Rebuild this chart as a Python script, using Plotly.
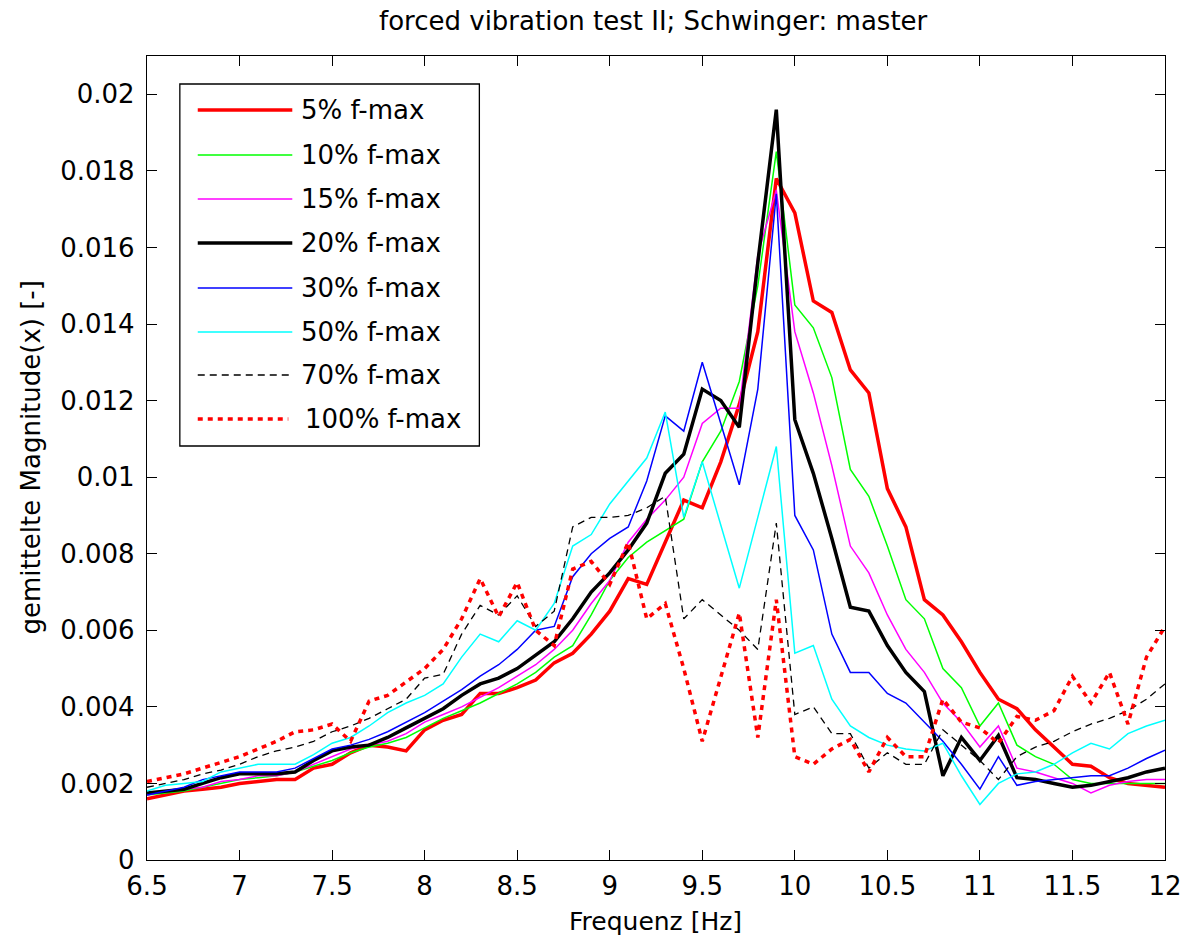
import numpy as np
import plotly.graph_objects as go

# ---------------- data (magnitudes in units of 1e-3) ----------------
freq = [round(6.5 + 0.1 * i, 2) for i in range(56)]

s5 = [1.6, 1.7, 1.8, 1.85, 1.9, 2.0, 2.05, 2.1, 2.1, 2.4,
      2.5, 2.8, 3.0, 2.95, 2.85, 3.4, 3.65, 3.8, 4.35, 4.35,
      4.5, 4.7, 5.15, 5.4, 5.9, 6.5, 7.35, 7.2, 8.3, 9.4,
      9.2, 10.4, 11.9, 13.8, 17.8, 16.9, 14.6, 14.3, 12.8, 12.2,
      9.7, 8.7, 6.8, 6.4, 5.7, 4.9, 4.2, 3.95, 3.4, 2.95,
      2.5, 2.45, 2.15, 2.0, 1.95, 1.9]
s10 = [1.7, 1.75, 1.8, 1.9, 2.0, 2.1, 2.15, 2.2, 2.3, 2.45,
       2.6, 2.8, 2.95, 3.05, 3.2, 3.45, 3.7, 3.9, 4.1, 4.35,
       4.6, 4.9, 5.3, 5.6, 6.4, 7.3, 7.9, 8.3, 8.6, 8.9,
       10.4, 11.2, 12.5, 15.0, 18.5, 14.5, 13.9, 12.6, 10.2, 9.5,
       8.2, 6.8, 6.3, 5.0, 4.5, 3.5, 4.1, 3.0, 2.7, 2.5,
       2.1, 2.0, 2.0, 2.0, 2.0, 2.0]
s15 = [1.7, 1.8, 1.85, 1.9, 2.05, 2.1, 2.2, 2.2, 2.3, 2.5,
       2.7, 2.9, 3.0, 3.1, 3.3, 3.6, 3.8, 4.0, 4.25, 4.5,
       4.8, 5.1, 5.5, 6.0, 6.7, 7.3, 8.3, 8.9, 9.4, 10.0,
       11.4, 11.8, 11.8, 15.8, 17.5, 13.8, 12.2, 10.3, 8.2, 7.5,
       6.4, 5.5, 4.9, 4.1, 3.6, 2.95, 3.5, 2.4, 2.3, 2.15,
       2.0, 1.75, 1.95, 2.05, 2.1, 2.1]
s20 = [1.75, 1.8, 1.85, 2.0, 2.15, 2.25, 2.25, 2.25, 2.3, 2.6,
       2.85, 2.95, 3.0, 3.2, 3.45, 3.7, 3.95, 4.3, 4.6, 4.75,
       5.0, 5.35, 5.7, 6.3, 7.0, 7.5, 8.1, 8.8, 10.1, 10.6,
       12.3, 12.0, 11.3, 15.6, 19.6, 11.5, 10.1, 8.4, 6.6, 6.5,
       5.6, 4.9, 4.4, 2.2, 3.2, 2.6, 3.25, 2.15, 2.1, 2.0,
       1.9, 1.95, 2.05, 2.15, 2.3, 2.4]
s30 = [1.7, 1.8, 1.9, 2.1, 2.2, 2.3, 2.3, 2.3, 2.4, 2.65,
       2.9, 3.0, 3.15, 3.35, 3.6, 3.85, 4.15, 4.45, 4.8, 5.1,
       5.5, 6.0, 6.1, 7.4, 8.0, 8.4, 8.7, 9.9, 11.6, 11.2,
       13.0, 11.4, 9.8, 12.3, 17.4, 9.0, 8.1, 5.9, 4.9, 4.9,
       4.35, 4.1, 3.6, 3.1, 2.5, 1.85, 2.7, 1.95, 2.05, 2.1,
       2.15, 2.2, 2.2, 2.4, 2.65, 2.87]
s50 = [1.8, 1.95, 2.0, 2.05, 2.3, 2.4, 2.5, 2.5, 2.5, 2.75,
       3.05, 3.2, 3.5, 3.85, 4.1, 4.3, 4.6, 5.3, 5.9, 5.7,
       6.25, 6.0, 6.7, 8.2, 8.5, 9.3, 9.9, 10.5, 11.7, 8.95,
       10.4, 8.75, 7.1, 8.95, 10.8, 5.4, 5.6, 4.2, 3.5, 3.2,
       3.0, 2.9, 2.85, 3.05, 2.2, 1.45, 2.0, 2.25, 2.3, 2.5,
       2.8, 3.05, 2.9, 3.3, 3.5, 3.65]
s70 = [1.9, 2.0, 2.1, 2.25, 2.35, 2.5, 2.7, 2.85, 2.95, 3.1,
       3.35, 3.5, 3.7, 3.95, 4.2, 4.75, 4.85, 5.9, 6.65, 6.4,
       6.9, 6.1, 6.5, 8.7, 8.95, 8.95, 9.0, 9.2, 9.5, 6.3,
       6.8, 6.4, 6.0, 5.5, 8.8, 3.8, 4.0, 3.3, 3.3, 2.4,
       2.8, 2.5, 2.5, 3.4, 3.0, 2.6, 2.1, 2.7, 2.95, 3.1,
       3.35, 3.55, 3.7, 3.9, 4.2, 4.6]
s100 = [2.05, 2.15, 2.25, 2.4, 2.55, 2.7, 2.9, 3.1, 3.35, 3.4,
        3.55, 3.1, 4.15, 4.3, 4.65, 5.0, 5.5, 6.3, 7.35, 6.35,
        7.25, 6.0, 5.6, 7.6, 7.8, 7.2, 8.3, 6.3, 6.7, 5.0,
        3.1, 4.8, 6.45, 3.2, 6.8, 2.7, 2.5, 2.9, 3.15, 2.3,
        3.2, 2.7, 2.7, 4.2, 3.6, 3.45, 3.05, 3.75, 3.65, 3.9,
        4.8, 4.1, 4.9, 3.55, 5.3, 6.1]

series_names = ["5% f-max", "10% f-max", "15% f-max", "20% f-max",
                "30% f-max", "50% f-max", "70% f-max", "100% f-max"]
series_values = [s5, s10, s15, s20, s30, s50, s70, s100]

x_ticks = [6.5, 7, 7.5, 8, 8.5, 9, 9.5, 10, 10.5, 11, 11.5, 12]
x_tick_labels = ["6.5", "7", "7.5", "8", "8.5", "9", "9.5", "10", "10.5", "11", "11.5", "12"]
y_ticks = [0, 0.002, 0.004, 0.006, 0.008, 0.01, 0.012, 0.014, 0.016, 0.018, 0.02]
y_tick_labels = ["0", "0.002", "0.004", "0.006", "0.008", "0.01", "0.012",
                 "0.014", "0.016", "0.018", "0.02"]

title_text = "forced vibration test II; Schwinger: master"
x_title = "Frequenz [Hz]"
y_title = "gemittelte Magnitude(x) [-]"

# ---------------- styles ----------------
styles = [
    dict(color="#ff0000", width=3.5, dash="solid"),
    dict(color="#00ff00", width=1.5, dash="solid"),
    dict(color="#ff00ff", width=1.5, dash="solid"),
    dict(color="#000000", width=3.5, dash="solid"),
    dict(color="#0000ff", width=1.5, dash="solid"),
    dict(color="#00ffff", width=1.5, dash="solid"),
    dict(color="#000000", width=1.3, dash="7px,5px"),
    dict(color="#ff0000", width=3.5, dash="5px,5px"),
]

W, H = 1194, 947
PL, PR, PT, PB = 147, 1170, 56, 860
FONT = "DejaVu Sans"


def px(xp):
    return (xp - PL) / (PR - PL)


def py(yp):
    return (PB - yp) / (PB - PT)


fig = go.Figure()
for name, vals, st in zip(series_names, series_values, styles):
    fig.add_trace(go.Scatter(
        x=freq, y=np.array(vals) * 1e-3, mode="lines", name=name,
        line=dict(color=st["color"], width=st["width"], dash=st["dash"]),
        showlegend=False))

# manual legend (MATLAB style)
shapes = [dict(type="rect", xref="paper", yref="paper",
               x0=px(180), x1=px(481), y0=py(446), y1=py(84),
               line=dict(color="black", width=1.3), fillcolor="white")]
annotations = []
entry_y = [110, 155, 199, 243, 288, 332, 375, 419]
for i, (name, st) in enumerate(zip(series_names, styles)):
    yy = py(entry_y[i])
    x_end = 293 if i < 7 else 289
    shapes.append(dict(type="line", xref="paper", yref="paper",
                       x0=px(198), x1=px(x_end), y0=yy, y1=yy,
                       line=dict(color=st["color"], width=st["width"], dash=st["dash"])))
    annotations.append(dict(text=name, xref="paper", yref="paper",
                            x=px(300 if i < 7 else 304), y=yy, xanchor="left", yanchor="middle",
                            showarrow=False, font=dict(family=FONT, size=26, color="black")))

annotations.append(dict(text=x_title, xref="paper", yref="paper", x=px(658), y=py(921),
                        xanchor="center", yanchor="middle", showarrow=False,
                        font=dict(family=FONT, size=25, color="black")))
annotations.append(dict(text=y_title, xref="paper", yref="paper", x=px(30), y=py(458),
                        xanchor="center", yanchor="middle", textangle=-90, showarrow=False,
                        font=dict(family=FONT, size=26, color="black")))
annotations.append(dict(text=title_text, xref="paper", yref="paper", x=px(656), y=py(21),
                        xanchor="center", yanchor="middle", showarrow=False,
                        font=dict(family=FONT, size=26, color="black")))

axis_common = dict(showgrid=False, zeroline=False, showline=True, linecolor="black",
                   linewidth=1.3, mirror="ticks", ticks="inside", ticklen=10,
                   tickcolor="black", tickwidth=1.3,
                   tickfont=dict(family=FONT, size=26, color="black"))

fig.update_layout(
    width=W, height=H, autosize=False,
    margin=dict(l=PL, r=W - PR, t=PT, b=H - PB, pad=0),
    paper_bgcolor="white", plot_bgcolor="white",
    xaxis=dict(range=[6.5, 12], tickvals=x_ticks, ticktext=x_tick_labels,
               ticklabelstandoff=3, **axis_common),
    yaxis=dict(range=[0, 0.021], tickvals=y_ticks, ticktext=y_tick_labels,
               ticklabelstandoff=6, **axis_common),
    shapes=shapes, annotations=annotations,
    showlegend=False,
)

fig.write_html("out.html")
